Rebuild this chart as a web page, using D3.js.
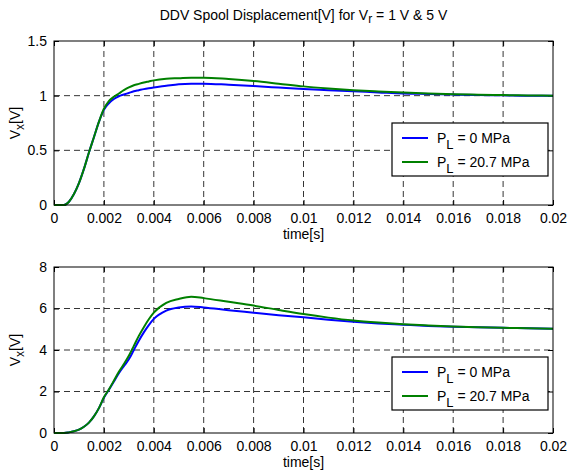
<!DOCTYPE html>
<html><head><meta charset="utf-8">
<script src="https://cdn.jsdelivr.net/npm/d3@7"></script>
<style>body{margin:0;background:#fff}svg{display:block}text{font-family:"Liberation Sans",Arial,sans-serif}</style>
</head><body>
<svg id="c" width="568" height="476"></svg>
<script>
const time = [0,0.0004,0.0006,0.0008,0.001,0.0012,0.0014,0.0016,0.0018,0.002,0.0022,0.0024,0.0026,0.0028,0.003,0.0032,0.0034,0.0036,0.0038,0.004,0.0045,0.005,0.0055,0.006,0.007,0.008,0.009,0.01,0.011,0.012,0.013,0.014,0.015,0.016,0.017,0.018,0.019,0.02];
const top0MPa  = [0,0,0.03,0.10,0.20,0.33,0.48,0.62,0.76,0.87,0.93,0.97,0.995,1.01,1.025,1.04,1.05,1.06,1.068,1.075,1.09,1.105,1.11,1.11,1.10,1.088,1.074,1.06,1.05,1.04,1.03,1.02,1.015,1.01,1.005,1.003,1.0,1.0];
const top207MPa= [0,0,0.03,0.10,0.20,0.33,0.48,0.62,0.76,0.88,0.95,0.99,1.02,1.05,1.075,1.095,1.108,1.12,1.13,1.14,1.155,1.16,1.165,1.165,1.152,1.134,1.11,1.085,1.066,1.05,1.038,1.028,1.02,1.014,1.009,1.005,1.002,1.0];
const bot0MPa  = [0,0,0.03,0.08,0.16,0.30,0.50,0.80,1.20,1.70,2.08,2.48,2.88,3.22,3.55,4.00,4.45,4.85,5.20,5.50,5.90,6.05,6.10,6.05,5.92,5.80,5.68,5.58,5.46,5.36,5.28,5.22,5.16,5.12,5.10,5.07,5.05,5.03];
const bot207MPa= [0,0,0.03,0.08,0.16,0.30,0.50,0.80,1.20,1.72,2.10,2.52,2.95,3.32,3.72,4.20,4.68,5.10,5.48,5.80,6.27,6.46,6.57,6.50,6.32,6.14,5.93,5.73,5.56,5.42,5.32,5.24,5.18,5.13,5.10,5.07,5.05,5.03];
const xTicks = [0,0.002,0.004,0.006,0.008,0.01,0.012,0.014,0.016,0.018,0.02];
const xTickLabels = ["0","0.002","0.004","0.006","0.008","0.01","0.012","0.014","0.016","0.018","0.02"];
const yTicksTop = [0,0.5,1,1.5];
const yTickLabelsTop = ["0","0.5","1","1.5"];
const yTicksBot = [0,2,4,6,8];
const yTickLabelsBot = ["0","2","4","6","8"];
const legendLabels = [["P","L"," = 0 MPa"],["P","L"," = 20.7 MPa"]];
const colors = ["#0000ff","#008000"];

const svg = d3.select("#c");
const FS = 14;
const L = 54, R = 553;

svg.append("text").attr("x",(L+R)/2).attr("y",20).attr("text-anchor","middle").attr("font-size",FS)
  .call(t=>{t.append("tspan").text("DDV Spool Displacement[V] for V");
    t.append("tspan").attr("dy",3).attr("font-size",FS-2).text("r");
    t.append("tspan").attr("dy",-3).text(" = 1 V & 5 V");});

function panel(top, bottom, yDomain, yTicks, yLabels, series, legTop){
  const x = d3.scaleLinear().domain([0,0.02]).range([L,R]);
  const y = d3.scaleLinear().domain(yDomain).range([bottom,top]);
  const g = svg.append("g");
  xTicks.slice(1,-1).forEach(v=>g.append("line").attr("x1",x(v)).attr("x2",x(v)).attr("y1",top).attr("y2",bottom)
     .attr("stroke","#000").attr("stroke-width",0.8).attr("stroke-dasharray","6,4"));
  yTicks.slice(1,-1).forEach(v=>g.append("line").attr("y1",y(v)).attr("y2",y(v)).attr("x1",L).attr("x2",R)
     .attr("stroke","#000").attr("stroke-width",0.8).attr("stroke-dasharray","6,4"));
  const xa = d3.axisBottom(x).tickValues(xTicks).tickFormat((d,i)=>xTickLabels[i]).tickSizeInner(-5).tickSizeOuter(0).tickPadding(8);
  const gx = g.append("g").attr("transform",`translate(0,${bottom})`).call(xa);
  const xt = d3.axisTop(x).tickValues(xTicks).tickFormat("").tickSizeInner(-5).tickSizeOuter(0);
  const gxt = g.append("g").attr("transform",`translate(0,${top})`).call(xt);
  const ya = d3.axisLeft(y).tickValues(yTicks).tickFormat((d,i)=>yLabels[i]).tickSizeInner(-5).tickSizeOuter(0).tickPadding(7);
  const gy = g.append("g").attr("transform",`translate(${L},0)`).call(ya);
  const yr = d3.axisRight(y).tickValues(yTicks).tickFormat("").tickSizeInner(-5).tickSizeOuter(0);
  const gyr = g.append("g").attr("transform",`translate(${R},0)`).call(yr);
  [gx,gxt,gy,gyr].forEach(a=>{a.select(".domain").remove();a.selectAll("line").attr("stroke","#000");
     a.selectAll("text").attr("font-size",FS).attr("fill","#000").attr("font-family","Liberation Sans, Arial, sans-serif");});
  gx.selectAll("text").attr("dy","0.71em");
  const line = d3.line().x((d,i)=>x(time[i])).y(d=>y(d)).curve(d3.curveMonotoneX);
  series.forEach((s,k)=>g.append("path").attr("d",line(s)).attr("fill","none").attr("stroke",colors[k]).attr("stroke-width",2));
  g.append("rect").attr("x",L).attr("y",top).attr("width",R-L).attr("height",bottom-top).attr("fill","none").attr("stroke","#000").attr("stroke-width",1);
  g.append("text").attr("x",(L+R)/2).attr("y",bottom+34).attr("text-anchor","middle").attr("font-size",FS).text("time[s]");
  g.append("text").attr("transform",`translate(20,${(top+bottom)/2}) rotate(-90)`).attr("text-anchor","middle").attr("font-size",FS)
    .call(t=>{t.append("tspan").text("V");t.append("tspan").attr("dy",4).attr("font-size",FS-2).text("x");
      t.append("tspan").attr("dy",-4).text("[V]");});
  const lx=392, lw=156, lh=53;
  const lg = g.append("g");
  lg.append("rect").attr("x",lx).attr("y",legTop).attr("width",lw).attr("height",lh).attr("fill","#fff").attr("stroke","#000").attr("stroke-width",1.2);
  legendLabels.forEach((lab,k)=>{
    const yy = legTop+15+k*24;
    lg.append("line").attr("x1",lx+10).attr("x2",lx+36).attr("y1",yy).attr("y2",yy).attr("stroke",colors[k]).attr("stroke-width",2);
    lg.append("text").attr("x",lx+45).attr("y",yy+5).attr("font-size",FS)
      .call(t=>{t.append("tspan").text(lab[0]);t.append("tspan").attr("dy",6).attr("font-size",FS-1).text(lab[1]);
        t.append("tspan").attr("dy",-6).text(lab[2]);});
  });
}
panel(41,205,[0,1.5],yTicksTop,yTickLabelsTop,[top0MPa,top207MPa],123);
panel(267,433,[0,8],yTicksBot,yTickLabelsBot,[bot0MPa,bot207MPa],357);
</script>
</body></html>
